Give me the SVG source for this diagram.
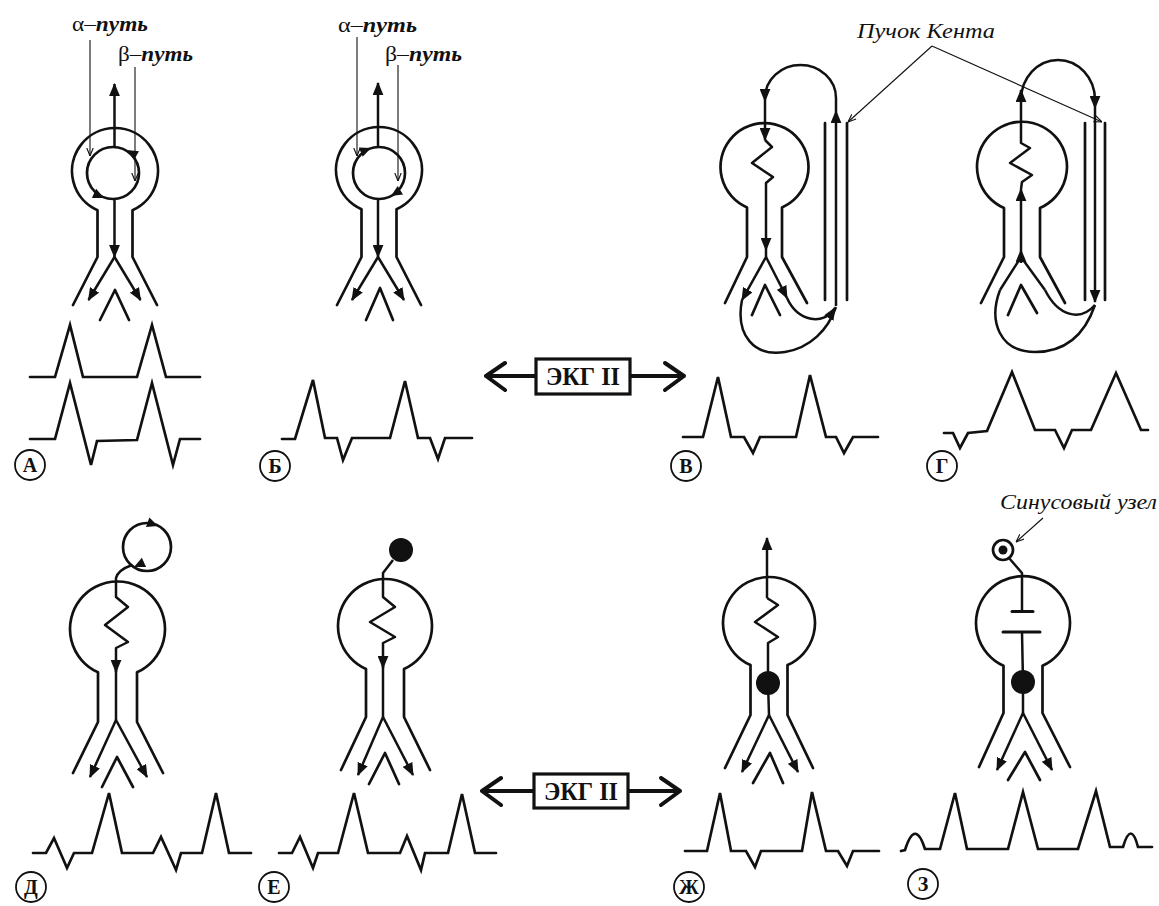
<svg xmlns="http://www.w3.org/2000/svg" xmlns:xlink="http://www.w3.org/1999/xlink" width="1159" height="906" viewBox="0 0 1159 906">
  <defs>
    <style>
      .o { fill: none; stroke: #111; stroke-width: 2.7; stroke-linejoin: round; stroke-linecap: round; }
      .p { fill: none; stroke: #111; stroke-width: 2.5; stroke-linejoin: round; }
      .a { fill: none; stroke: #111; stroke-width: 2.5; stroke-linejoin: round; marker-end: url(#ah); }
      .t { fill: none; stroke: #111; stroke-width: 1.1; }
      .ta { fill: none; stroke: #111; stroke-width: 1.1; marker-end: url(#la); }
      .ecg { fill: none; stroke: #111; stroke-width: 2.7; stroke-linejoin: miter; stroke-linecap: round; }
      .lbl { fill: none; stroke: #111; stroke-width: 1.8; }
      .lt { font-family: "Liberation Serif", "DejaVu Serif", serif; font-weight: bold; font-size: 20px; fill: #111; text-anchor: middle; }
      .it { font-family: "Liberation Serif", "DejaVu Serif", serif; font-style: italic; font-size: 21px; fill: #111; }
      .ib { font-weight: bold; }
      .box { fill: #fff; stroke: #111; stroke-width: 3.2; }
      .bt { font-family: "Liberation Serif", "DejaVu Serif", serif; font-weight: bold; font-size: 25px; fill: #111; text-anchor: middle; }
      .dbl { fill: none; stroke: #111; stroke-width: 4; stroke-linecap: round; stroke-linejoin: round; }
      .dot { fill: #111; }
    </style>
    <marker id="ah" viewBox="0 0 12 10" refX="11" refY="5" markerWidth="13" markerHeight="11" markerUnits="userSpaceOnUse" orient="auto">
      <path d="M0,0 L12,5 L0,10 z" fill="#111"/>
    </marker>
    <marker id="la" viewBox="0 0 10 10" refX="10" refY="5" markerWidth="8" markerHeight="8" markerUnits="userSpaceOnUse" orient="auto">
      <path d="M0,1 L10,5 L0,9" fill="none" stroke="#111" stroke-width="1.4"/>
    </marker>
    <path id="tri" d="M0,0 L-11,-5 L-11,5 z" fill="#111"/>
  </defs>

  <!-- ===== Panel A: AV-node ring, counter-clockwise ===== -->
  <g id="panel-a">
    <text class="it" x="72" y="31" textLength="76" lengthAdjust="spacingAndGlyphs"><tspan font-style="normal">α–</tspan><tspan class="ib">путь</tspan></text>
    <text class="it" x="118" y="61" textLength="75" lengthAdjust="spacingAndGlyphs"><tspan font-style="normal">β–</tspan><tspan class="ib">путь</tspan></text>
    <path class="o" d="M73,305 L97.5,257 L97.5,210.3 A43,43 0 1 1 132.5,210.3 L132.5,257 L157,305"/>
    <circle class="o" cx="113" cy="173" r="26"/>
    <path class="o" d="M100,320 L115,290 L129,320"/>
    <use xlink:href="#tri" transform="translate(127,150) rotate(-150)"/>
    <use xlink:href="#tri" transform="translate(104,198) rotate(25)"/>
  </g>

  <!-- ===== Panel Б: AV-node ring, clockwise ===== -->
  <g id="panel-b">
    <text class="it" x="338" y="32" textLength="79" lengthAdjust="spacingAndGlyphs"><tspan font-style="normal">α–</tspan><tspan class="ib">путь</tspan></text>
    <text class="it" x="385" y="61" textLength="77" lengthAdjust="spacingAndGlyphs"><tspan font-style="normal">β–</tspan><tspan class="ib">путь</tspan></text>
    <path class="o" d="M337,305 L361.5,257 L361.5,209.3 A43,43 0 1 1 396.5,209.3 L396.5,257 L421,305"/>
    <circle class="o" cx="379" cy="173" r="26"/>
    <path class="o" d="M366,320 L380,288 L393,320"/>
    <use xlink:href="#tri" transform="translate(371,148) rotate(-22)"/>
    <use xlink:href="#tri" transform="translate(391,196) rotate(148)"/>
  </g>

  <!-- ===== Panel В: Kent bundle, orthodromic ===== -->
  <g id="panel-v">
    <path class="o" d="M725,303 L747,257 L747,207.4 A44,44 0 1 1 782,207.4 L782,257 L807,303"/>
    <path class="o" d="M752,315 L765,285 L780,315"/>
    <path class="o" d="M825,123 L825,300 M847,123 L847,300"/>
  </g>

  <!-- ===== Panel Г: Kent bundle, antidromic ===== -->
  <g id="panel-g">
    <path class="o" d="M981,303 L1004,257 L1004,208 A45,45 0 1 1 1040,208 L1040,257 L1065,303"/>
    <path class="o" d="M1008,315 L1021,285 L1037,313"/>
    <path class="o" d="M1085,123 L1085,300 M1105,123 L1105,300"/>
  </g>

  <text id="kent-label" class="it" x="857" y="38" textLength="138" lengthAdjust="spacingAndGlyphs">Пучок Кента</text>

  <!-- ===== Panel Д: atrial re-entry circuit ===== -->
  <g id="panel-d">
    <circle class="o" cx="147" cy="547" r="24"/>
    <use xlink:href="#tri" transform="translate(158,526) rotate(20)"/>
    <use xlink:href="#tri" transform="translate(134,567) rotate(155)"/>
    <path class="o" d="M73,773 L98,722 L98,672.3 A47.5,47.5 0 1 1 137,672.3 L137,722 L163,773"/>
    <path class="o" d="M102,787 L117,757 L133,787"/>
  </g>

  <!-- ===== Panel Е: ectopic atrial focus ===== -->
  <g id="panel-e">
    <circle class="dot" cx="401" cy="550" r="12"/>
    <path class="o" d="M341,770 L366,717 L366,669 A47,47 0 1 1 404,669 L404,717 L430,770"/>
    <path class="o" d="M369,784 L385,753 L399,784"/>
  </g>

  <!-- ===== Panel Ж: junctional focus ===== -->
  <g id="panel-zh">
    <circle class="dot" cx="768" cy="683" r="12"/>
    <path class="o" d="M725,768 L750.5,715 L750.5,665.1 A46,46 0 1 1 787.5,665.1 L787.5,715 L813,768"/>
    <path class="o" d="M753,783 L770,753 L783,783"/>
  </g>

  <!-- ===== Panel З: AV block with junctional escape ===== -->
  <g id="panel-z">
    <circle class="o" cx="1003" cy="550" r="10"/>
    <circle class="dot" cx="1003" cy="550" r="4.5"/>
    <text class="it" x="1000" y="509" textLength="157" lengthAdjust="spacingAndGlyphs">Синусовый узел</text>
    <path class="o" d="M979,767 L1003.5,713 L1003.5,665.8 A47,47 0 1 1 1042.5,665.8 L1042.5,713 L1070,767"/>
    <path class="o" d="M1008,780 L1025,752 L1040,780"/>
    <circle class="dot" cx="1023" cy="682" r="12"/>
  </g>

  <!-- ===== ECG II switches ===== -->
  <g id="ecg-switch-top">
    <path class="dbl" d="M486,376 L535,376 M505,363 L486,376 L505,390"/>
    <path class="dbl" d="M630,376 L684,376 M665,363 L684,376 L665,390"/>
    <rect class="box" x="536" y="359" width="94" height="35"/>
    <text class="bt" x="583" y="385" textLength="74" lengthAdjust="spacingAndGlyphs">ЭКГ II</text>
  </g>
  <g id="ecg-switch-bottom">
    <path class="dbl" d="M482,791 L533,791 M501,778 L482,791 L501,805"/>
    <path class="dbl" d="M628,791 L680,791 M661,778 L680,791 L661,805"/>
    <rect class="box" x="534" y="774" width="94" height="34"/>
    <text class="bt" x="581" y="800" textLength="74" lengthAdjust="spacingAndGlyphs">ЭКГ II</text>
  </g>

  <!-- ===== ECG traces ===== -->
  <g id="ecg-traces">
    <polyline class="ecg" points="30,377 55,377 70,325 83,377 137,377 152,325 166,377 200,377"/>
    <polyline class="ecg" points="30,439 55,439 70,383 91,465 97,441 137,440 152,383 173,465 180,439 200,439"/>
    <polyline class="ecg" points="282,439 295,439 313,380 325,438 337,438 343,460 352,438 390,438 405,381 418,438 430,438 438,459 445,438 472,438"/>
    <polyline class="ecg" points="683,437 703,437 718,377 731,437 744,437 753,453 760,437 796,437 810,375 826,437 836,437 844,453 853,437 878,437"/>
    <polyline class="ecg" points="944,433 953,433 960,448 968,433 987,431 1012,372 1035,430 1055,430 1064,448 1072,430 1091,430 1116,373 1141,430 1148,430"/>
    <polyline class="ecg" points="33,853 46,853 54,838 67,868 74,853 92,853 109,793 122,853 153,853 161,837 176,870 181,853 202,853 216,793 229,853 251,853"/>
    <polyline class="ecg" points="279,853 292,853 300,837 313,868 318,853 338,853 354,793 368,853 400,853 407,836 421,870 425,853 448,853 462,794 475,853 496,853"/>
    <polyline class="ecg" points="685,851 707,851 720,793 731,851 746,851 755,867 761,851 802,851 812,792 826,851 838,851 847,866 853,851 879,851"/>
    <path class="ecg" d="M901,851 L905,850 Q915,818 925,849 L940,849 L955,793 L967,849 L1008,849 L1023,792 L1038,849 L1078,849 L1096,791 L1110,847 L1123,847 Q1131,820 1138,847 L1152,847"/>
  </g>

  <!-- ===== Panel labels ===== -->
  <g id="labels">
    <circle class="lbl" cx="30" cy="465" r="15"/><text class="lt" x="30" y="472">А</text>
    <circle class="lbl" cx="275" cy="466" r="15"/><text class="lt" x="275" y="473">Б</text>
    <circle class="lbl" cx="686" cy="466" r="15"/><text class="lt" x="686" y="473">В</text>
    <circle class="lbl" cx="942" cy="466" r="15"/><text class="lt" x="942" y="473">Г</text>
    <circle class="lbl" cx="31" cy="887" r="15"/><text class="lt" x="31" y="894">Д</text>
    <circle class="lbl" cx="274" cy="887" r="15"/><text class="lt" x="274" y="894">Е</text>
    <circle class="lbl" cx="689" cy="887" r="15"/><text class="lt" x="689" y="894">Ж</text>
    <circle class="lbl" cx="923" cy="884" r="15"/><text class="lt" x="923" y="891">З</text>
  </g>

  <!-- ===== Conduction paths and leader lines ===== -->
  <g id="connectors">
    <!-- A -->
    <path class="ta" d="M90,40 L90,156"/>
    <path class="ta" d="M135,67 L135,181"/>
    <path class="a" d="M114.5,147 L114.5,84"/>
    <path class="a" d="M114.5,199 L114.5,257"/>
    <path class="a" d="M114.5,257 L88.5,300"/>
    <path class="a" d="M114.5,257 L140.5,300"/>
    <!-- Б -->
    <path class="ta" d="M357,37 L357,156"/>
    <path class="ta" d="M398,65 L398,181"/>
    <path class="a" d="M378,147 L378,83"/>
    <path class="a" d="M378,199 L378,257"/>
    <path class="a" d="M378,257 L352,300"/>
    <path class="a" d="M378,257 L404,300"/>
    <!-- В -->
    <path class="a" d="M836,306 L836,111"/>
    <path class="a" d="M836,111 L836,98 A35.5,33 0 0 0 765,98 L765,101"/>
    <path class="a" d="M765,101 L765,140"/>
    <path class="a" d="M765,140 L772,147 L752,163 L773,177 L766,183 L766,250"/>
    <path class="a" d="M766,250 L766,257 L742,300"/>
    <path class="a" d="M766,257 L787,298"/>
    <path class="p" d="M742,300 C735,336 755,357 785,352 C810,348 828,330 836,307"/>
    <path class="a" d="M787,298 C798,322 824,326 835,308"/>
    <!-- Г -->
    <path class="p" d="M1000,290 L1021,257 L1045,290"/>
    <path class="a" d="M1021,263 L1021,250"/>
    <path class="a" d="M1021,250 L1021,189"/>
    <path class="a" d="M1021,189 L1022,182 L1032,175 L1010,163 L1030,148 L1021,143 L1021,90"/>
    <path class="a" d="M1021,100 A37,40 0 0 1 1095,100 L1095,108"/>
    <path class="a" d="M1095,108 L1095,302"/>
    <path class="p" d="M1000,290 C988,322 1000,352 1035,352 C1066,352 1085,334 1095,305"/>
    <path class="p" d="M1045,290 C1058,316 1080,322 1095,305"/>
    <!-- Kent bundle leaders -->
    <path class="ta" d="M932,46 L848,122"/>
    <path class="ta" d="M932,46 L1102,122"/>
    <!-- Д -->
    <path class="p" d="M132,565 Q118,570 116,578 L116,597 L128,607 L105,625 L128,642 L116,648 L116,672"/>
    <path class="a" d="M116,660 L116,672"/>
    <path class="p" d="M116,672 L116,720"/>
    <path class="a" d="M116,720 L90,777"/>
    <path class="a" d="M116,720 L147,777"/>
    <!-- Е -->
    <path class="p" d="M393,560 L383,573 L383,597 L395,607 L370,622 L395,637 L383,643 L383,668"/>
    <path class="a" d="M383,656 L383,668"/>
    <path class="p" d="M383,668 L383,717"/>
    <path class="a" d="M383,717 L358,775"/>
    <path class="a" d="M383,717 L413,775"/>
    <!-- Ж -->
    <path class="a" d="M767,598 L767,538"/>
    <path class="p" d="M767,598 L778,605 L755,622 L778,637 L768,643 L768,683"/>
    <path class="p" d="M768,683 L769,715"/>
    <path class="a" d="M769,715 L742,772"/>
    <path class="a" d="M769,715 L798,772"/>
    <!-- З -->
    <path class="ta" d="M1043,518 L1016,542"/>
    <path class="p" d="M1009,558 L1022,573 L1022,611"/>
    <path class="o" d="M1012,611.5 L1033,611.5" style="stroke-width:3"/>
    <path class="o" d="M1003,632 L1040,632" style="stroke-width:3"/>
    <path class="p" d="M1022,632 L1023,682 L1023,713"/>
    <path class="a" d="M1023,713 L997,770"/>
    <path class="a" d="M1023,713 L1052,770"/>
  </g>
</svg>
